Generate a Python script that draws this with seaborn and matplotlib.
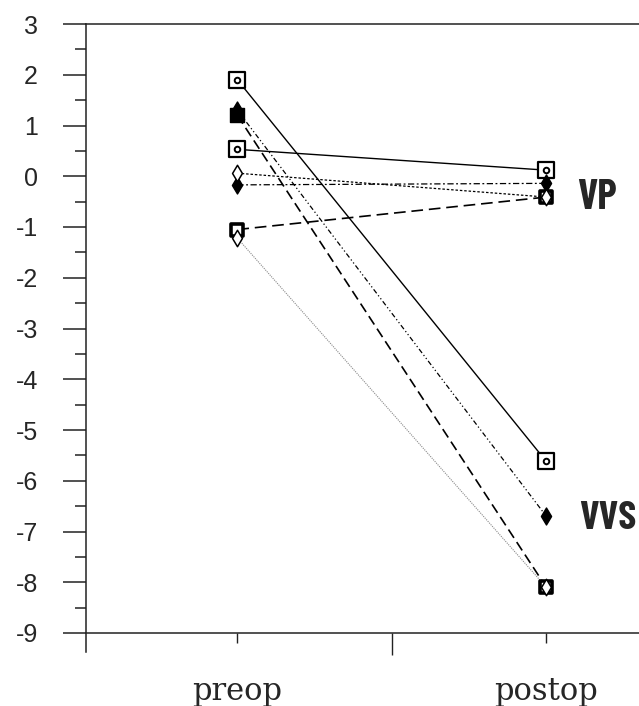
import pandas as pd
import seaborn as sns
import matplotlib.pyplot as plt
from matplotlib.ticker import MultipleLocator

# values
phases = ["preop", "postop"]
subjects = ["s1", "s2", "s3", "s4", "s5", "s6", "s7", "s8"]
preop = [1.90, 0.53, 1.20, 1.30, 0.06, -0.17, -1.05, -1.22]
postop = [-5.62, 0.12, -8.10, -6.70, -0.41, -0.14, -0.41, -8.10]
yticks = list(range(-9, 4))

# styles
line_dashes = {"s1": "", "s2": "", "s3": (6, 3), "s4": (4, 2, 1, 2, 1, 2),
               "s5": (2, 1.5), "s6": (5, 2, 1.5, 2), "s7": (7, 3.5), "s8": (1, 1)}
line_colors = {s: "black" for s in subjects}
line_colors["s8"] = "#8a8a8a"
line_widths = {"s1": 1.0, "s2": 1.0, "s3": 1.2, "s4": 0.9, "s5": 0.9,
               "s6": 0.9, "s7": 1.2, "s8": 0.8}
pre_kind = ["sqdot", "sqdot", "fsq", "fdia", "odia", "fdia", "bsq", "odia"]
post_kind = ["sqdot", "sqdot", "bsq", "fdia", "odia", "fdia", "bsq", "odia"]
marker_layers = {
    "bsq": [dict(marker="s", s=85, color="white", linewidth=2.6)],
    "fsq": [dict(marker="s", s=100, color="black", linewidth=1.0)],
    "sqdot": [dict(marker="s", s=120, color="white", linewidth=1.6),
              dict(marker="o", s=16, color="white", linewidth=1.4)],
    "fdia": [dict(marker="d", s=75, color="black", linewidth=1.0)],
    "odia": [dict(marker="d", s=70, color="white", linewidth=1.1)],
}

rows = []
for i, s in enumerate(subjects):
    rows.append({"subject": s, "phase": phases[0], "value": preop[i], "kind": pre_kind[i]})
for i, s in enumerate(subjects):
    rows.append({"subject": s, "phase": phases[1], "value": postop[i], "kind": post_kind[i]})
df = pd.DataFrame(rows)

sns.set_style("white")
plt.rcParams["axes.unicode_minus"] = False

fig = plt.figure(figsize=(6.39, 7.06), dpi=100)
ax = fig.add_axes([86 / 639, 73 / 706, 1 - 86 / 639, 609 / 706])

sns.lineplot(data=df, x="phase", y="value", hue="subject", style="subject",
             size="subject", palette=line_colors, dashes=line_dashes,
             sizes=line_widths, legend=False, ax=ax, zorder=2)

for z, kind in enumerate(marker_layers):
    pts = df[df["kind"] == kind]
    for layer in marker_layers[kind]:
        sns.scatterplot(data=pts, x="phase", y="value", edgecolor="black",
                        ax=ax, zorder=3 + z, legend=False, **layer)

ax.set_xlim(-0.49, 1.30)
ax.set_ylim(-9, 3)
ax.set_yticks(yticks)
ax.yaxis.set_minor_locator(MultipleLocator(0.5))
ax.set_xticks([0.5], labels=[""])
ax.set_xticks(range(len(phases)), labels=phases, minor=True)
ax.set_xlabel("")
ax.set_ylabel("")

for side in ["left", "bottom", "top"]:
    ax.spines[side].set_color("#222222")
    ax.spines[side].set_linewidth(1.1)
ax.spines["right"].set_visible(False)
ax.spines["left"].set_bounds(-9.38, 3)

ax.tick_params(axis="y", which="major", direction="out", length=16.5, width=1.1,
               color="#222222", pad=18, left=True, labelsize=18)
ax.tick_params(axis="y", which="minor", direction="out", length=8, width=1.1,
               color="#222222", left=True)
ax.tick_params(axis="x", which="major", direction="out", length=16, width=1.0,
               color="#222222", bottom=True)
ax.tick_params(axis="x", which="minor", direction="out", length=7, width=1.0,
               color="#222222", bottom=True, pad=24, labelsize=22)
for lab in ax.get_yticklabels():
    lab.set_fontfamily("Liberation Sans")
for lab in ax.get_xticklabels(minor=True):
    lab.set_fontfamily("DejaVu Serif")

tag_font = ["Barlow Condensed", "DejaVu Sans"]
ax.text(1.10, -0.42, "VP", fontsize=30, fontweight="bold",
        family=tag_font, ha="left", va="center")
ax.text(1.105, -6.75, "VVS", fontsize=29, fontweight="bold",
        family=tag_font, ha="left", va="center")

fig.savefig("out.png", dpi=100)
